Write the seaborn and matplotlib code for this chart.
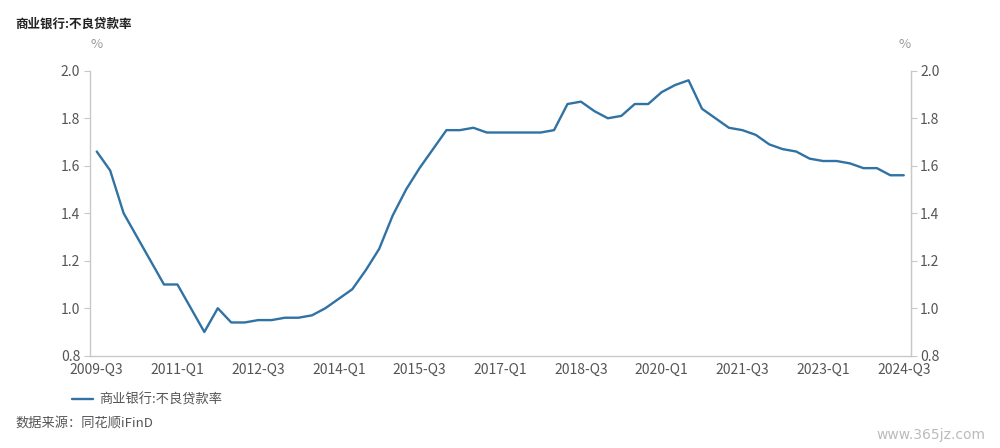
import pandas as pd
import numpy as np
import matplotlib
matplotlib.use("Agg")
import matplotlib.pyplot as plt
import seaborn as sns

years = list(range(2009, 2025))
quarters = []
for y in years:
    for q in range(1, 5):
        quarters.append(f"{y}-Q{q}")
quarters = quarters[2:quarters.index("2024-Q3") + 1]

npl_ratio = [1.66, 1.58,
             1.40, 1.30, 1.20, 1.10,
             1.10, 1.00, 0.90, 1.00,
             0.94, 0.94, 0.95, 0.95,
             0.96, 0.96, 0.97, 1.00,
             1.04, 1.08, 1.16, 1.25,
             1.39, 1.50, 1.59, 1.67,
             1.75, 1.75, 1.76, 1.74,
             1.74, 1.74, 1.74, 1.74,
             1.75, 1.86, 1.87, 1.83,
             1.80, 1.81, 1.86, 1.86,
             1.91, 1.94, 1.96, 1.84,
             1.80, 1.76, 1.75, 1.73,
             1.69, 1.67, 1.66, 1.63,
             1.62, 1.62, 1.61, 1.59,
             1.59, 1.56, 1.56]

series_name = "商业银行:不良贷款率"
df = pd.DataFrame({"pos": np.arange(len(quarters)), "quarter": quarters, "value": npl_ratio})

sns.set_style("white")
plt.rcParams['font.family'] = ['Noto Sans CJK SC', 'DejaVu Sans']

line_color = "#2f72a3"
grey_text = "#555555"
axis_color = "#c8c8c8"

fig = plt.figure(figsize=(10, 4.48), dpi=100)
ax = fig.add_axes([0.090, 0.206, 0.8205, 0.636])

sns.lineplot(data=df, x="pos", y="value", ax=ax, color=line_color, linewidth=1.7,
             label=series_name, legend=False)

ax.set_xlim(-0.5, len(quarters) - 0.5)
ax.set_ylim(0.8, 2.0)
yt = [0.8, 1.0, 1.2, 1.4, 1.6, 1.8, 2.0]
ax.set_yticks(yt)
ax.set_yticklabels([f"{v:.1f}" for v in yt])

# labels sit in the middle of a quarter, tick marks on the quarter edges
label_pos = list(range(0, len(quarters), 6))
ax.set_xticks(label_pos)
ax.set_xticklabels([quarters[i] for i in label_pos])
ax.set_xticks([p - 0.5 for p in label_pos], minor=True)
ax.tick_params(axis="x", which="major", length=0, pad=5.5, labelsize=10, labelcolor=grey_text)
ax.tick_params(axis="x", which="minor", length=4, color=axis_color, direction="out")
ax.tick_params(axis="y", length=4, color=axis_color, direction="out", pad=3,
               labelsize=10, labelcolor=grey_text)
ax.set_xlabel("")
ax.set_ylabel("")

for s in ["left", "right", "bottom"]:
    ax.spines[s].set_color(axis_color)
    ax.spines[s].set_linewidth(1)
ax.spines["top"].set_visible(False)

ax2 = ax.twinx()
ax2.set_ylim(0.8, 2.0)
ax2.set_yticks(yt)
ax2.set_yticklabels([f"{v:.1f}" for v in yt])
ax2.tick_params(axis="y", length=4, color=axis_color, direction="out", pad=3,
                labelsize=10, labelcolor=grey_text)
for s in ["left", "top", "bottom"]:
    ax2.spines[s].set_visible(False)
ax2.spines["right"].set_color(axis_color)

fig.text(0.097, 0.9, "%", fontsize=9.5, color="#999999", ha="center", va="center")
fig.text(0.905, 0.9, "%", fontsize=9.5, color="#999999", ha="center", va="center")

fig.text(0.015, 0.945, series_name, fontsize=9, fontweight="bold", color="#222222",
         ha="left", va="center")

handles, labels = ax.get_legend_handles_labels()
fig.legend(handles, labels, loc="center left", bbox_to_anchor=(0.06, 0.107), frameon=False,
           fontsize=9.5, labelcolor=grey_text, handlelength=1.6, handletextpad=0.5)

fig.text(0.015, 0.055, "数据来源：同花顺iFinD", fontsize=9.5, color=grey_text,
         ha="left", va="center")
fig.text(0.985, 0.03, "www.365jz.com", fontsize=10, color="#bbbbbb",
         ha="right", va="center", family=["DejaVu Sans"])

fig.savefig("out.png", dpi=100, facecolor="white")
